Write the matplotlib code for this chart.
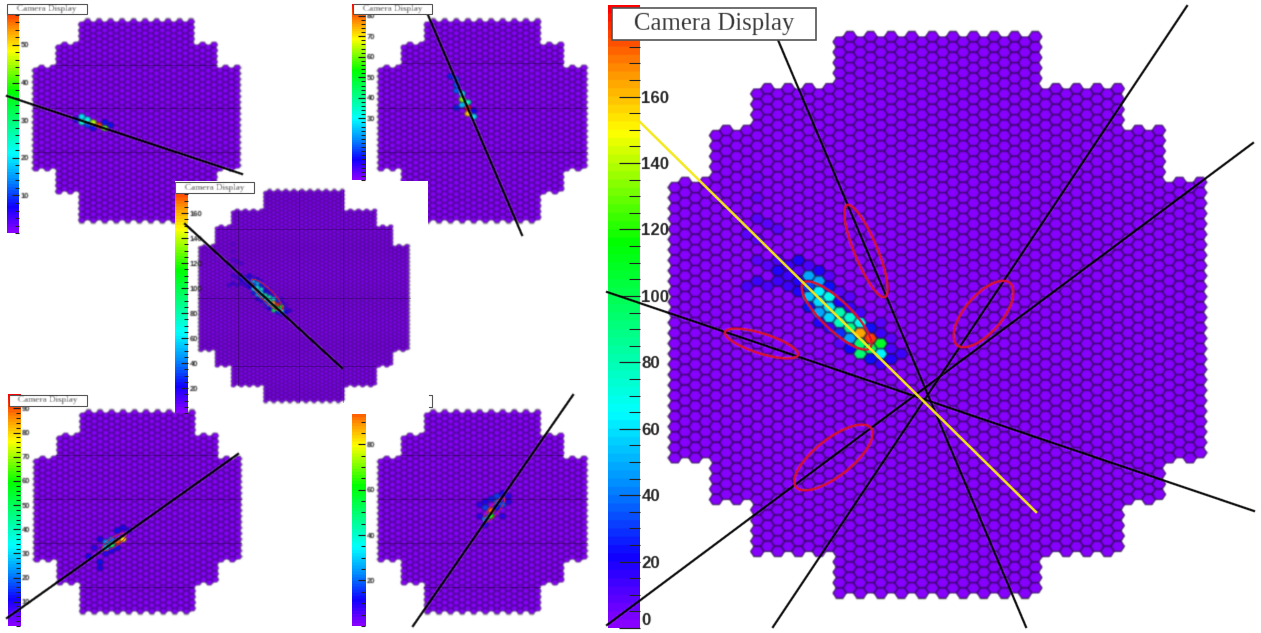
import numpy as np
import matplotlib
matplotlib.use("Agg")
import matplotlib.pyplot as plt
from matplotlib.collections import PolyCollection
from matplotlib.colors import LinearSegmentedColormap
from matplotlib.patches import Ellipse, Rectangle

W, H = 1261, 633

# camera outlines: how far each block of columns reaches up and down, in rows
BIG_COLS = [9.5, 17.5, 21.5, 25.5]
BIG_TOP = [27, 22, 18, 13]
BIG_BOTTOM = [26.5, 22.5, 17.5, 13.5]
SMALL_COLS = [9.5, 13.5, 17.5]
SMALL_TOP = [17, 13, 9]
SMALL_BOTTOM = [17.5, 12.5, 8.5]

# hit pixels (column, row, value)
big_i = [-16, -16, -15, -15, -15, -14, -14, -14, -14, -13, -13, -13, -13, -13,
         -12, -12, -12, -12, -12, -12, -11, -11, -11, -11, -11, -11,
         -10, -10, -10, -10, -10, -10, -9, -9, -9, -9, -9, -9,
         -8, -8, -8, -8, -8, -7, -7, -7, -7, -6, -6, -6, -6, -6, -5, -5, -5, -4,
         -18, -19, -17, -16, -18, -19, -17, -17, -16, -18, -18, -18, -18]
big_r = [-4.5, -3.5, -5, -4, -3, -5.5, -4.5, -3.5, -2.5, -5, -4, -3, -2, -1,
         -4.5, -3.5, -2.5, -1.5, -0.5, 0.5, -4, -3, -2, -1, 0, 1,
         -2.5, -1.5, -0.5, 0.5, 1.5, 2.5, -2, -1, 0, 1, 2, 3,
         -0.5, 0.5, 1.5, 2.5, 3.5, 1, 2, 3, 4, 0.5, 1.5, 2.5, 3.5, 4.5, 2, 3, 4, 3.5,
         -9.5, -8, -9, -8.5, -5.5, -3, -3, -5, -5.5, -7.5, -3.5, -11.5, -13.5]
big_v = [18, 14, 14, 14, 14, 18, 10, 18, 20, 12, 50, 32, 55, 25,
         20, 50, 65, 58, 48, 18, 10, 25, 70, 62, 58, 15,
         10, 20, 82, 78, 30, 8, 8, 15, 75, 88, 50, 22,
         12, 68, 165, 95, 95, 25, 180, 100, 25, 8, 15, 110, 65, 14, 8, 12, 20, 15,
         8, 10, 8, 8, 10, 12, 12, 10, 12, 10, 14, 6, 5]

p1_i = [-11, -10, -9, -10, -9, -8, -8, -7, -6, -6, -5]
p1_r = [0, -0.5, 0, 0.5, 1, 0.5, 1.5, 1, 1.5, 0.5, 1]
p1_v = [6, 20, 22, 24, 10, 45, 8, 58, 42, 8, 8]

p2_i = [-6, -5, -5, -5, -4, -4, -4, -5, -3, -3, -3, -2, -2]
p2_r = [-7.5, -7, -6, -5, -4.5, -3.5, -2.5, -2, -3, -2, -1, -0.5, -1.5]
p2_v = [12, 14, 14, 16, 28, 60, 25, 12, 36, 85, 72, 28, 10]

p4_i = [-3, -4, -5, -6, -6, -5, -4, -3, -2, -7, -8, -9, -7, -7, -5, -6, -4]
p4_r = [5, 5.5, 6, 6.5, 5.5, 5, 3.5, 3, 3.5, 5, 6.5, 8, 9, 10, 7, 7.5, 6.5]
p4_v = [78, 90, 50, 30, 22, 20, 12, 10, 8, 10, 8, 10, 12, 10, 10, 8, 12]

p5_i = [1, 1, 0, 0, -1, 0, 2, 1, 2, 3, 3, 4, 4, 2, 3, 0, -1]
p5_r = [1, 0, 1.5, -0.5, -1, -1.5, -2.5, -2, -1.5, -3, -1, -2.5, -1.5, -0.5, 1, 2.5, 1]
p5_v = [62, 93, 22, 16, 8, 10, 16, 14, 18, 10, 18, 8, 8, 12, 8, 8, 8]

# colour bars: major tick labels
big_ticks = [0, 20, 40, 60, 80, 100, 120, 140, 160]
p1_ticks = [10, 20, 30, 40, 50]
p2_ticks = [30, 40, 50, 60, 70, 80]
p3_ticks = [20, 40, 60, 80, 100, 120, 140, 160]
p4_ticks = [10, 20, 30, 40, 50, 60, 70, 80, 90]
p5_ticks = [20, 40, 60, 80]

# shower axes in the large view
big_lines_x = [[607, 1254], [778, 1026], [607, 1253], [773, 1187]]
big_lines_y = [[292, 511], [40, 627], [625, 143], [627, 6]]
yellow_x = [640, 1036]
yellow_y = [122, 512]
ell_x0 = [847, 803, 725, 957, 796, 252, 102, 484]
ell_y0 = [205, 283, 332, 345, 487, 280, 550, 522]
ell_x1 = [885, 870, 798, 1010, 871, 282, 126, 504]
ell_y1 = [297, 348, 355, 283, 428, 310, 534, 498]
ell_minor = [23, 29, 20, 37, 37, 12, 9, 9]
ell_lw = [1.7, 1.7, 1.7, 1.7, 1.7, 0.7, 0.6, 0.6]

# shower axes in the small views
small_x = [[7, 242], [428, 522], [185, 342], [7, 238], [413, 573]]
small_y = [[96, 174], [15, 235], [224, 368], [618, 454], [626, 395]]

# darker seams that the down-scaling left in the small views
seam_x0 = [56, 33, 33, 402, 378, 378, 56, 33, 33, 79, 402, 378, 378, 424]
seam_x1 = [217, 240, 240, 563, 587, 587, 217, 241, 241, 193, 563, 587, 587, 540]
seam_y = [65, 108, 152, 63, 108, 152, 455, 499, 543, 587, 455, 499, 543, 587]
mid_seam_x0 = [217, 198, 233]
mid_seam_x1 = [391, 410, 375]
mid_seam_y = [229, 298, 366]
mid_seam_vx = [238, 299, 343]
mid_seam_y0 = [211, 190, 190]
mid_seam_y1 = [385, 402, 402]

palette = LinearSegmentedColormap.from_list("root_rainbow", [
    (0.0, "#8800ff"), (0.11, "#1000ff"), (0.23, "#0090ff"), (0.345, "#00ffff"),
    (0.48, "#00ff80"), (0.62, "#00ff00"), (0.80, "#ffff00"), (0.90, "#ff9000"),
    (0.97, "#ff3000"), (1.0, "#ff0000")], N=75)


def blur(sigma):
    # the reference is a scaled-down screenshot, so everything is a bit soft
    pad = int(sigma * 3) + 1
    offs = np.arange(-pad, pad + 1)
    kern = np.exp(-offs**2 / (2 * sigma**2))
    kern = kern / kern.sum()

    def do_blur(img, dpi):
        a = np.pad(img, ((pad, pad), (pad, pad), (0, 0)))
        for axis in (0, 1):
            a = sum(w * np.roll(a, o, axis=axis) for o, w in zip(offs, kern))
        return a, -pad, -pad
    return do_blur


def draw_camera(ax, cx, cy, dx, dy, cols, top, bottom, hit_i, hit_r, hit_v, vmax, lw, sigma):
    half = cols[-1] + 0.5
    hits = {(i, r): v for i, r, v in zip(hit_i, hit_r, hit_v)}
    polys, vals = [], []
    for i in range(-int(half), int(half)):
        pos = abs(i + 0.5)
        k = next(n for n, c in enumerate(cols) if pos <= c)
        shift = 0.0 if i % 2 else 0.5
        for r in np.arange(-top[k] - 1, bottom[k] + 1):
            r = r + shift
            if r < -top[k] or r > bottom[k]:
                continue
            x = cx + dx * (i + 0.5)
            y = cy + dy * r
            s = dx * 2 / 3
            polys.append([(x - s, y), (x - s / 2, y - dy / 2), (x + s / 2, y - dy / 2),
                          (x + s, y), (x + s / 2, y + dy / 2), (x - s / 2, y + dy / 2)])
            vals.append(hits.get((i, r), 0))
    pc = PolyCollection(polys, array=np.array(vals), cmap=palette, clim=(0, vmax),
                        edgecolors="#240848", linewidths=lw, zorder=2)
    pc.set_agg_filter(blur(sigma))
    ax.add_collection(pc)


def draw_bar(x0, x1, y0, y1, vlow, vtop, vmax, ticks, tick_scale, label_size, sigma):
    bar = fig.add_axes([x0 / W, 1 - y1 / H, (x1 - x0) / W, (y1 - y0) / H], zorder=3)
    bar.imshow(np.linspace(0, vmax, 300)[:, None], origin="lower", aspect="auto", cmap=palette,
               vmin=0, vmax=vmax, extent=[0, 1, 0, vmax])
    bar.set_ylim(vlow, vtop)
    bar.set_xticks([])
    step = ticks[1] - ticks[0]
    bar.yaxis.tick_right()
    bar.set_yticks(ticks)
    bar.set_yticks(np.arange(0, vtop, step / 4 if step == 20 else step / 5), minor=True)
    bar.tick_params(axis="y", which="major", direction="in", length=15 * tick_scale, width=0.9,
                    color="#222222", labelsize=label_size, pad=1, labelcolor="#222222")
    bar.tick_params(axis="y", which="minor", direction="in", length=8 * tick_scale, width=0.8,
                    color="#222222")
    for lab in bar.get_yticklabels():
        lab.set_fontfamily("Liberation Sans")
        lab.set_fontweight("bold")
        lab.set_agg_filter(blur(sigma))
        if lab.get_text() == "0":
            lab.set_verticalalignment("bottom")
    for side in bar.spines.values():
        side.set_visible(False)
    return bar


def title_box(ax, x0, y0, x1, y1, size, lw, sigma):
    ax.add_patch(Rectangle((x0, y0), x1 - x0, y1 - y0, facecolor="white", edgecolor="#555555",
                           linewidth=lw, zorder=6))
    t = ax.text((x0 + x1) / 2, (y0 + y1) / 2, "Camera Display", family="Liberation Serif", fontsize=size,
                color="#2a2a2a", ha="center", va="center", zorder=7)
    t.set_agg_filter(blur(sigma))


fig = plt.figure(figsize=(W / 100, H / 100), dpi=100)
canvas = fig.add_axes([0, 0, 1, 1], zorder=1)
canvas.set_xlim(0, W)
canvas.set_ylim(H, 0)
canvas.axis("off")
over = fig.add_axes([0, 0, 1, 1], zorder=5)
over.set_xlim(0, W)
over.set_ylim(H, 0)
over.axis("off")
over.patch.set_alpha(0)

# small views
draw_camera(canvas, 136.5, 119.5, 5.75, 5.75, SMALL_COLS, SMALL_TOP, SMALL_BOTTOM, p1_i, p1_r, p1_v, 60.6, 0.55, 0.7)
draw_camera(canvas, 482.5, 119.5, 5.8, 5.75, SMALL_COLS, SMALL_TOP, SMALL_BOTTOM, p2_i, p2_r, p2_v, 85.7, 0.55, 0.7)
draw_camera(canvas, 137.5, 510.5, 5.75, 5.75, SMALL_COLS, SMALL_TOP, SMALL_BOTTOM, p4_i, p4_r, p4_v, 96, 0.55, 0.7)
draw_camera(canvas, 482.5, 510.5, 5.8, 5.75, SMALL_COLS, SMALL_TOP, SMALL_BOTTOM, p5_i, p5_r, p5_v, 100, 0.55, 0.7)
for x0, x1, y in zip(seam_x0, seam_x1, seam_y):
    canvas.plot([x0, x1], [y, y], color="#1a0535", lw=0.7, alpha=0.4, zorder=2.5)[0].set_agg_filter(blur(0.5))

# the middle view sits on its own white sheet
canvas.add_patch(Rectangle((175, 181), 253, 226, facecolor="white", edgecolor="none", zorder=3))
mid = fig.add_axes([0, 0, 1, 1], zorder=1.5)
mid.set_xlim(0, W)
mid.set_ylim(H, 0)
mid.axis("off")
mid.patch.set_alpha(0)
draw_camera(mid, 304, 297, 4.04, 3.92, BIG_COLS, BIG_TOP, BIG_BOTTOM, big_i, big_r, big_v, 185, 0.45, 0.7)
for x0, x1, y in zip(mid_seam_x0, mid_seam_x1, mid_seam_y):
    mid.plot([x0, x1], [y, y], color="#1a0535", lw=0.6, alpha=0.4, zorder=2.5)
for x, y0, y1 in zip(mid_seam_vx, mid_seam_y0, mid_seam_y1):
    mid.plot([x, x], [y0, y1], color="#1a0535", lw=0.6, alpha=0.4, zorder=2.5)

# large view
draw_camera(canvas, 937.5, 317.5, 10.3, 10.4, BIG_COLS, BIG_TOP, BIG_BOTTOM, big_i, big_r, big_v, 187.6, 0.8, 0.6)

draw_bar(608, 640, 5, 628, 0, 187.6, 187.6, big_ticks, 1.0, 12.2, 0.5)
draw_bar(7, 19, 5, 235, -0.5, 60.6, 60.6, p1_ticks, 0.32, 5.5, 0.7)
draw_bar(352, 365, 4, 180, 20, 85.7, 85.7, p2_ticks, 0.32, 5.5, 0.7)
draw_bar(175, 188, 182, 413, 0, 185, 185, p3_ticks, 0.32, 5.5, 0.7)
draw_bar(7.5, 20.5, 394, 627, -0.5, 96, 96, p4_ticks, 0.32, 5.5, 0.7)
draw_bar(352, 365, 414, 627, -0.5, 93.4, 100, p5_ticks, 0.32, 5.5, 0.7)

# lines on top of the cameras
for xs, ys in zip(big_lines_x, big_lines_y):
    over.plot(xs, ys, color="black", lw=1.6, zorder=4)[0].set_agg_filter(blur(0.5))
for x0, y0, x1, y1, minor, lw in zip(ell_x0, ell_y0, ell_x1, ell_y1, ell_minor, ell_lw):
    length = np.hypot(x1 - x0, y1 - y0)
    angle = np.degrees(np.arctan2(y1 - y0, x1 - x0))
    e = Ellipse(((x0 + x1) / 2, (y0 + y1) / 2), length, minor, angle=angle, fill=False,
                edgecolor="#e0102c", linewidth=lw, zorder=4)
    e.set_agg_filter(blur(0.5))
    over.add_patch(e)
over.plot(yellow_x, yellow_y, color="#f4e81c", lw=1.8, zorder=5)[0].set_agg_filter(blur(0.4))

for xs, ys in zip(small_x, small_y):
    over.plot(xs, ys, color="black", lw=1.7, zorder=4)[0].set_agg_filter(blur(0.6))

title_box(over, 612, 8, 816, 40, 17.8, 1.2, 0.5)
title_box(over, 7, 4, 87, 14, 6.6, 0.8, 0.7)
title_box(over, 353, 4, 432, 14, 6.6, 0.8, 0.7)
title_box(over, 175, 182, 254, 193, 6.6, 0.8, 0.7)
title_box(over, 9, 395, 87, 406, 6.6, 0.8, 0.7)

# leftover corner of a hidden title box
over.plot([429, 432, 432, 429], [395, 395, 407, 407], color="#555555", lw=0.8, zorder=4)

fig.savefig("out.png", dpi=100)
